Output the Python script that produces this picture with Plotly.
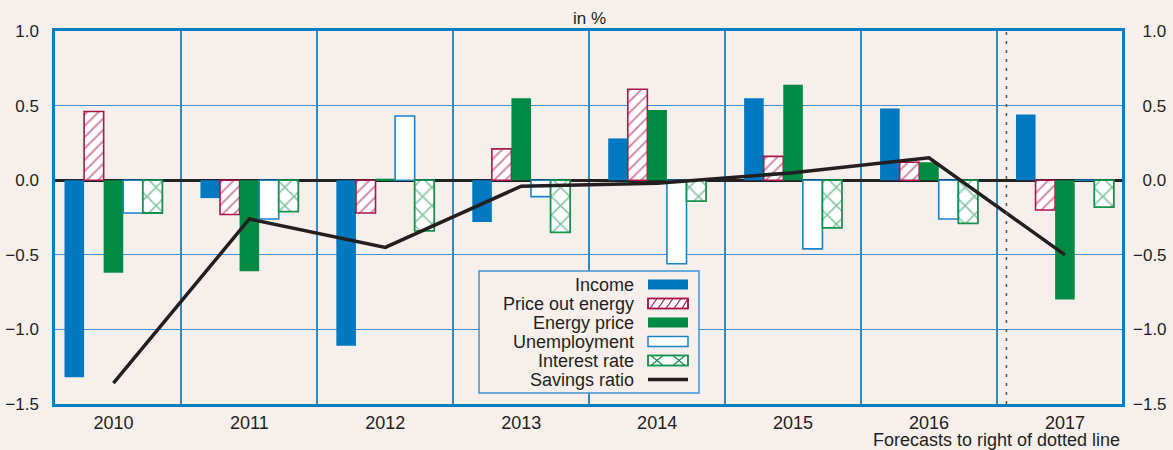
import plotly.graph_objects as go

years = ["2010", "2011", "2012", "2013", "2014", "2015", "2016", "2017"]
income = [-1.32, -0.12, -1.11, -0.28, 0.28, 0.55, 0.48, 0.44]
price_out_energy = [0.46, -0.23, -0.22, 0.21, 0.61, 0.16, 0.12, -0.20]
energy_price = [-0.62, -0.61, 0.01, 0.55, 0.47, 0.64, 0.12, -0.80]
unemployment = [-0.22, -0.26, 0.43, -0.11, -0.56, -0.46, -0.26, 0.0]
interest_rate = [-0.22, -0.21, -0.34, -0.35, -0.14, -0.32, -0.29, -0.18]
savings_ratio = [-1.36, -0.26, -0.45, -0.04, -0.02, 0.05, 0.15, -0.50]
y_ticks = [1.0, 0.5, 0.0, -0.5, -1.0, -1.5]
legend_names = ["Income", "Price out energy", "Energy price", "Unemployment",
                "Interest rate", "Savings ratio"]

BG = "#f6efec"
BLUE = "#0a7cc1"
GRID = "#3d8fcf"
C_INC = "#0079c1"
C_POE = "#a8174a"
C_EN = "#008a44"
C_UN = "#1a84c8"
C_IR = "#17924f"
C_SAV = "#231f20"
TXT = "#231f20"
FONT = "Liberation Sans, Arial, sans-serif"

W, H = 1173, 450
L, R, T, B = 55, 51, 31, 46
PW, PH = W - L - R, H - T - B


def px(x):
    return (x - L) / PW


def py(y):
    return (H - B - y) / PH


fig = go.Figure()
fig.add_bar(x=years, y=income, name="Income",
            marker=dict(color=C_INC, line=dict(width=0)))
fig.add_bar(x=years, y=price_out_energy, name="Price out energy",
            marker=dict(color="white", line=dict(color=C_POE, width=1.6),
                        pattern=dict(shape="/", fgcolor=C_POE, bgcolor="white",
                                     size=8, solidity=0.26)))
fig.add_bar(x=years, y=energy_price, name="Energy price",
            marker=dict(color=C_EN, line=dict(width=0)))
fig.add_bar(x=years, y=unemployment, name="Unemployment",
            marker=dict(color="white", line=dict(color=C_UN, width=1.6)))
fig.add_bar(x=years, y=interest_rate, name="Interest rate",
            marker=dict(color="white", line=dict(color=C_IR, width=1.8),
                        pattern=dict(shape="x", fgcolor=C_IR, bgcolor="white",
                                     size=13, solidity=0.25)))
fig.add_scatter(x=years, y=savings_ratio, name="Savings ratio", mode="lines",
                line=dict(color=C_SAV, width=3.5))
# dummy trace to carry the right-hand axis
fig.add_scatter(x=[years[0]], y=[0], yaxis="y2", mode="markers",
                marker=dict(opacity=0), hoverinfo="skip", showlegend=False)

fig.update_traces(showlegend=False)

fig.update_layout(
    width=W, height=H,
    margin=dict(l=L, r=R, t=T, b=B, pad=0, autoexpand=False),
    paper_bgcolor=BG, plot_bgcolor=BG,
    barmode="group", bargap=0.28, bargroupgap=0,
    font=dict(family=FONT, color=TXT, size=17),
    xaxis=dict(type="category", range=[-0.43, 7.42], tickson="boundaries",
               showgrid=True, gridcolor="#2f88ca", gridwidth=1.8,
               showline=True, mirror=True, linecolor=BLUE, linewidth=2.5,
               ticks="", tickfont=dict(size=18), ticklabelstandoff=1, automargin=False),
    yaxis=dict(range=[-1.5, 1.0], tickvals=y_ticks, tickformat=".1f",
               showgrid=True, gridcolor=GRID, gridwidth=1.2,
               zeroline=True, zerolinecolor="#222222", zerolinewidth=2.5,
               showline=True, mirror=True, linecolor=BLUE, linewidth=2.5,
               ticks="", tickfont=dict(size=17), ticklabelstandoff=10, automargin=False),
    yaxis2=dict(overlaying="y", side="right", range=[-1.5, 1.0],
                tickvals=y_ticks,
                ticktext=[("\u2007" if v >= 0 else "\u2212") + f"{abs(v):.1f}" for v in y_ticks],
                showgrid=False, zeroline=False, showline=False,
                ticks="", tickfont=dict(size=17), ticklabelstandoff=10, automargin=False),
)

shapes = []
# forecast divider
shapes.append(dict(type="line", xref="x", yref="paper", x0=6.57, x1=6.57, y0=0, y1=1,
                   line=dict(color="#555555", width=1.5, dash="3px,6px"), layer="above"))

# custom legend box
lx0, lx1, ly0, ly1 = 479, 699, 271, 393
shapes.append(dict(type="rect", xref="paper", yref="paper",
                   x0=px(lx0), x1=px(lx1), y0=py(ly1), y1=py(ly0),
                   fillcolor=BG, line=dict(color="#3d93d3", width=1.5), layer="above"))

row_y = [284.5, 303.5, 322.5, 341.5, 360.5, 379.5]
sx0, sx1 = 648, 688
annotations = []
for name, cy in zip(legend_names, row_y):
    annotations.append(dict(text=name, xref="paper", yref="paper", x=px(636), y=py(cy),
                            xanchor="right", yanchor="middle", showarrow=False,
                            font=dict(size=18, color=TXT, family=FONT)))

def rect(cy, fill, line_color, lw):
    return dict(type="rect", xref="paper", yref="paper", x0=px(sx0), x1=px(sx1),
                y0=py(cy + 5), y1=py(cy - 5), fillcolor=fill,
                line=dict(color=line_color, width=lw), layer="above")

def seg(xa, ya, xb, yb, color, w=1.2):
    return dict(type="line", xref="paper", yref="paper", x0=px(xa), y0=py(ya),
                x1=px(xb), y1=py(yb), line=dict(color=color, width=w), layer="above")

# Income
shapes.append(rect(row_y[0], C_INC, C_INC, 0))
# Price out energy (hatched)
cy = row_y[1]
shapes.append(rect(cy, "white", C_POE, 1.5))
for k in range(5):
    xa = sx0 + 2 + k * 8
    shapes.append(seg(xa, cy + 5, min(xa + 7, sx1), cy - 5, C_POE))
shapes.append(rect(cy, "rgba(0,0,0,0)", C_POE, 1.5))
# Energy price
shapes.append(rect(row_y[2], C_EN, C_EN, 0))
# Unemployment
shapes.append(rect(row_y[3], "white", C_UN, 1.5))
# Interest rate (cross)
cy = row_y[4]
shapes.append(rect(cy, "white", C_IR, 1.5))
for xc in (sx0 + 9, sx0 + 31):
    shapes.append(seg(xc - 6, cy + 5, xc + 6, cy - 5, C_IR))
    shapes.append(seg(xc - 6, cy - 5, xc + 6, cy + 5, C_IR))
shapes.append(rect(cy, "rgba(0,0,0,0)", C_IR, 1.5))
# Savings ratio line
shapes.append(seg(sx0, row_y[5], sx1, row_y[5], C_SAV, 3.5))

annotations.append(dict(text="in %", xref="paper", yref="paper", x=px(589), y=py(19),
                        xanchor="center", yanchor="middle", showarrow=False,
                        font=dict(size=17, color=TXT, family=FONT)))
annotations.append(dict(text="Forecasts to right of dotted line", xref="paper", yref="paper",
                        x=px(1122), y=py(440), xanchor="right", yanchor="middle",
                        showarrow=False, font=dict(size=18, color=TXT, family=FONT)))

fig.update_layout(shapes=shapes, annotations=annotations)

fig.write_html("out.html", config={"displayModeBar": False},
               post_script="document.body.style.margin='0';document.body.style.overflow='hidden';")
